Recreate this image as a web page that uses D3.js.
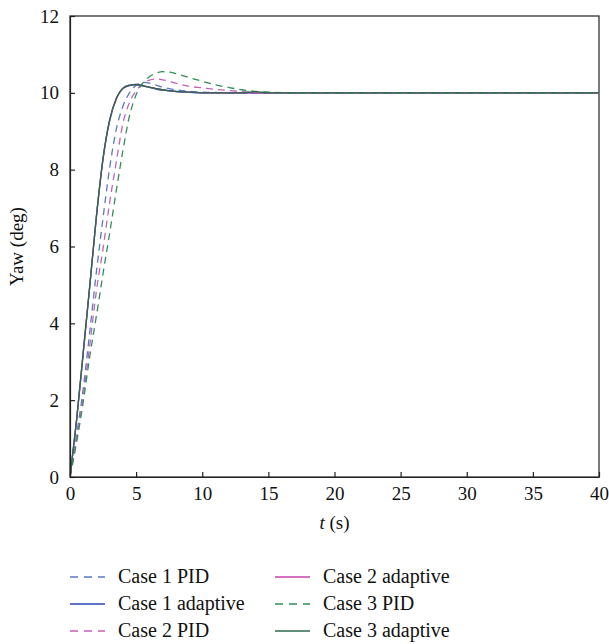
<!DOCTYPE html>
<html>
<head>
<meta charset="utf-8">
<script src="https://cdn.jsdelivr.net/npm/d3@7"></script>
<style>
  html, body { margin: 0; padding: 0; background: #fff; }
  svg { display: block; }
  svg text { font-family: "Liberation Serif", "DejaVu Serif", serif !important; fill: #111; }
</style>
</head>
<body>
<div id="chart"></div>
<script>
// ---- data ----
const time = [0, 0.5, 1, 1.5, 2, 2.5, 3, 3.5, 4, 4.5, 5, 5.5, 6, 6.5, 7, 7.5, 8, 9, 10, 11, 12, 13, 14, 15, 17, 20, 25, 30, 35, 40];

const case1PID      = [0, 1.1, 2.3, 3.8, 5.35, 6.75, 8.05, 9.05, 9.65, 10.0, 10.2, 10.27, 10.25, 10.2, 10.15, 10.11, 10.08, 10.04, 10.02, 10.01, 10.0, 10.0, 10.0, 10.0, 10.0, 10.0, 10.0, 10.0, 10.0, 10.0];
const case1Adaptive = [0, 1.48, 3.22, 4.98, 6.78, 8.28, 9.28, 9.84, 10.11, 10.19, 10.21, 10.18, 10.14, 10.1, 10.07, 10.05, 10.03, 10.01, 10.0, 10.0, 10.0, 10.0, 10.0, 10.0, 10.0, 10.0, 10.0, 10.0, 10.0, 10.0];
const case2PID      = [0, 1.0, 2.1, 3.45, 4.85, 5.95, 7.15, 8.2, 9.2, 9.75, 10.05, 10.24, 10.33, 10.36, 10.34, 10.3, 10.25, 10.17, 10.13, 10.09, 10.06, 10.03, 10.01, 10.0, 10.0, 10.0, 10.0, 10.0, 10.0, 10.0];
const case2Adaptive = [0, 1.49, 3.24, 4.99, 6.79, 8.29, 9.29, 9.85, 10.12, 10.2, 10.22, 10.19, 10.15, 10.11, 10.08, 10.06, 10.04, 10.02, 10.0, 10.0, 10.0, 10.0, 10.0, 10.0, 10.0, 10.0, 10.0, 10.0, 10.0, 10.0];
const case3PID      = [0, 0.9, 1.95, 3.15, 4.2, 5.3, 6.35, 7.45, 8.5, 9.4, 9.95, 10.25, 10.42, 10.51, 10.55, 10.54, 10.5, 10.4, 10.3, 10.21, 10.14, 10.08, 10.04, 10.02, 10.0, 10.0, 10.0, 10.0, 10.0, 10.0];
const case3Adaptive = [0, 1.5, 3.25, 5.0, 6.8, 8.3, 9.3, 9.85, 10.12, 10.2, 10.22, 10.19, 10.15, 10.11, 10.08, 10.06, 10.04, 10.02, 10.0, 10.0, 10.0, 10.0, 10.03, 10.0, 10.0, 10.0, 10.0, 10.0, 10.0, 10.0];

const seriesNames  = ["Case 1 PID", "Case 1 adaptive", "Case 2 PID", "Case 2 adaptive", "Case 3 PID", "Case 3 adaptive"];
const seriesValues = [case1PID, case1Adaptive, case2PID, case2Adaptive, case3PID, case3Adaptive];
const xTicks = [0, 5, 10, 15, 20, 25, 30, 35, 40];
const yTicks = [0, 2, 4, 6, 8, 10, 12];

// ---- styles ----
const colors = ["#5a78c8", "#2a44b4", "#c462b8", "#c444aa", "#2f8f5a", "#2c6a4c"];
const dashed = [true, false, true, false, true, false];

const W = 609, H = 644;
const m = { left: 70, right: 10, top: 16, bottom: 167 };
const pw = W - m.left - m.right, ph = H - m.top - m.bottom;

const svg = d3.select("#chart").append("svg").attr("width", W).attr("height", H);

const x = d3.scaleLinear().domain([0, 40]).range([m.left, m.left + pw]);
const y = d3.scaleLinear().domain([0, 12]).range([m.top + ph, m.top]);

// frame
svg.append("rect").attr("x", m.left).attr("y", m.top).attr("width", pw).attr("height", ph)
  .attr("fill", "none").attr("stroke", "#222").attr("stroke-width", 1.2);

// lines
const line = d3.line().x((d, i) => x(time[i])).y(d => y(d)).curve(d3.curveMonotoneX);
svg.append("clipPath").attr("id", "clip").append("rect")
  .attr("x", m.left).attr("y", m.top - 2).attr("width", pw).attr("height", ph + 2);
const g = svg.append("g").attr("clip-path", "url(#clip)");
seriesValues.forEach((vals, k) => {
  g.append("path").datum(vals).attr("d", line)
    .attr("fill", "none").attr("stroke", colors[k]).attr("stroke-width", 1.3)
    .attr("stroke-dasharray", dashed[k] ? "7,5" : null);
});

// axes (ticks inward)
const xAxis = d3.axisBottom(x).tickValues(xTicks).tickSizeInner(-5).tickSizeOuter(0).tickPadding(10);
const yAxis = d3.axisLeft(y).tickValues(yTicks).tickSizeInner(-5).tickSizeOuter(0).tickPadding(11);
const gx = svg.append("g").attr("transform", `translate(0,${m.top + ph})`).call(xAxis);
const gy = svg.append("g").attr("transform", `translate(${m.left},0)`).call(yAxis);
[gx, gy].forEach(a => {
  a.attr("font-family", null);
  a.select(".domain").attr("stroke", "#222").attr("stroke-width", 1.2);
  a.selectAll(".tick line").attr("stroke", "#222").attr("stroke-width", 1.2);
  a.selectAll(".tick text").attr("font-size", 19).attr("fill", "#111");
});
gy.selectAll(".tick line").attr("x2", 5);
gx.selectAll(".tick line").attr("y2", -5);

// axis labels
svg.append("text").attr("x", m.left + pw / 2).attr("y", 529).attr("text-anchor", "middle")
  .attr("font-size", 19)
  .html('<tspan font-style="italic">t</tspan> (s)');
svg.append("text").attr("transform", `translate(23,${m.top + ph / 2}) rotate(-90)`)
  .attr("text-anchor", "middle").attr("font-size", 19).text("Yaw (deg)");

// legend
const legX = [70, 275], legY = [577, 604, 631];
seriesNames.forEach((name, k) => {
  const col = Math.floor(k / 3), row = k % 3;
  const lx = legX[col], ly = legY[row];
  svg.append("line").attr("x1", lx).attr("x2", lx + 35).attr("y1", ly).attr("y2", ly)
    .attr("stroke", colors[k]).attr("stroke-width", 1.4)
    .attr("stroke-dasharray", dashed[k] ? "8,6" : null);
  svg.append("text").attr("x", lx + 48).attr("y", ly + 6).attr("font-size", 20).text(name);
});
</script>
</body>
</html>
